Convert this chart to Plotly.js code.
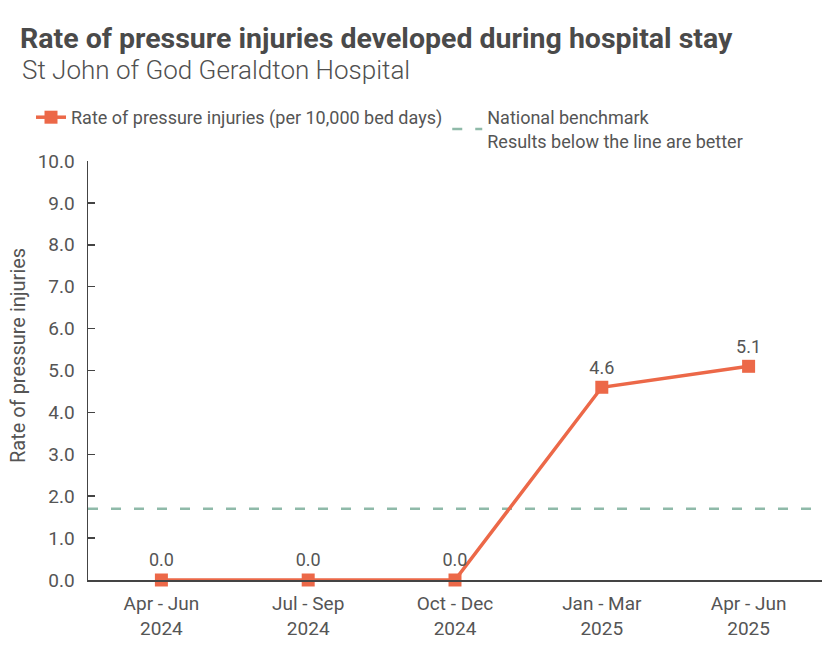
<!DOCTYPE html>
<html>
<head>
<meta charset="utf-8">
<script src="https://cdn.plot.ly/plotly-3.0.1.min.js"></script>
<style>
  html, body { margin: 0; padding: 0; background: #ffffff; }
  #chart { width: 840px; height: 655px; }
</style>
</head>
<body>
<div id="chart"></div>
<script>
// Reporting quarters shown along the x axis
const quarters = ['Apr - Jun<br>2024', 'Jul - Sep<br>2024', 'Oct - Dec<br>2024', 'Jan - Mar<br>2025', 'Apr - Jun<br>2025'];
// Pressure injury rate per 10,000 bed days, one value per quarter
const injuryRates = [0.0, 0.0, 0.0, 4.6, 5.1];
// National benchmark rate
const nationalBenchmark = 1.7;

const FONT = 'Roboto, sans-serif';
const TEXT_GREY = '#555555';
const ORANGE = '#ec6848';
const GREEN = '#8fbaa9';

const W = 840, H = 655;
const M = { l: 88, r: 18, t: 161, b: 75 };
const plotW = W - M.l - M.r;
const plotH = H - M.t - M.b;

const rateTrace = {
  type: 'scatter',
  mode: 'lines+markers+text',
  name: 'Rate of pressure injuries (per 10,000 bed days)',
  x: quarters,
  y: injuryRates,
  text: injuryRates.map(v => v.toFixed(1)),
  textposition: 'top center',
  textfont: { family: FONT, size: 18, color: TEXT_GREY },
  line: { color: ORANGE, width: 3.5 },
  marker: { symbol: 'square', size: 13, color: ORANGE },
  cliponaxis: false,
  hoverinfo: 'x+y'
};

const layout = {
  width: W,
  height: H,
  paper_bgcolor: '#ffffff',
  plot_bgcolor: '#ffffff',
  font: { family: FONT, color: TEXT_GREY, size: 17 },
  margin: M,
  title: {
    text: '<b>Rate of pressure injuries developed during hospital stay</b>',
    font: { family: FONT, size: 28.5, color: '#4a4a4a' },
    x: 20 / W,
    xanchor: 'left',
    xref: 'container',
    y: 1 - 38 / H,
    yanchor: 'middle',
    yref: 'container'
  },
  annotations: [{
    // subtitle under the main heading
    text: 'St John of God Geraldton Hospital',
    xref: 'paper',
    yref: 'paper',
    x: (20 - M.l) / plotW,
    y: (H - M.b - 70) / plotH,
    xanchor: 'left',
    yanchor: 'middle',
    showarrow: false,
    font: { family: FONT, size: 26, color: '#505050', weight: 300 }
  }, {
    // vertical y-axis caption
    text: 'Rate of pressure injuries',
    xref: 'paper',
    yref: 'paper',
    x: (18 - M.l) / plotW,
    y: (H - M.b - 356) / plotH,
    xanchor: 'center',
    yanchor: 'middle',
    textangle: -90,
    showarrow: false,
    font: { family: FONT, size: 20, color: TEXT_GREY }
  }],
  showlegend: true,
  legend: {
    orientation: 'h',
    xref: 'container',
    yref: 'container',
    x: 31 / W,
    xanchor: 'left',
    y: 1 - 99 / H,
    yanchor: 'top',
    font: { family: FONT, size: 18, color: TEXT_GREY },
    traceorder: 'normal',
    bgcolor: 'rgba(0,0,0,0)'
  },
  xaxis: {
    type: 'category',
    range: [-0.5, quarters.length - 0.5],
    showline: true,
    linecolor: '#444444',
    linewidth: 1.5,
    showgrid: false,
    zeroline: false,
    ticks: '',
    ticklabelstandoff: 6,
    tickfont: { family: FONT, size: 19, color: TEXT_GREY },
    fixedrange: true
  },
  yaxis: {
    range: [0, 10],
    dtick: 1,
    tickformat: '.1f',
    showline: true,
    linecolor: '#444444',
    linewidth: 1.5,
    ticks: 'inside',
    ticklen: 7,
    tickwidth: 1.5,
    tickcolor: '#444444',
    ticklabelstandoff: 8,
    showgrid: false,
    zeroline: false,
    tickfont: { family: FONT, size: 19, color: TEXT_GREY },
    fixedrange: true
  },
  shapes: [{
    type: 'line',
    xref: 'paper',
    x0: 0,
    x1: 1,
    yref: 'y',
    y0: nationalBenchmark,
    y1: nationalBenchmark,
    line: { color: GREEN, width: 2.5, dash: '10px,13px' },
    layer: 'below',
    showlegend: true,
    name: 'National benchmark<br>Results below the line are better'
  }]
};

Plotly.newPlot('chart', [rateTrace], layout, { displayModeBar: false, staticPlot: true });
</script>
</body>
</html>
